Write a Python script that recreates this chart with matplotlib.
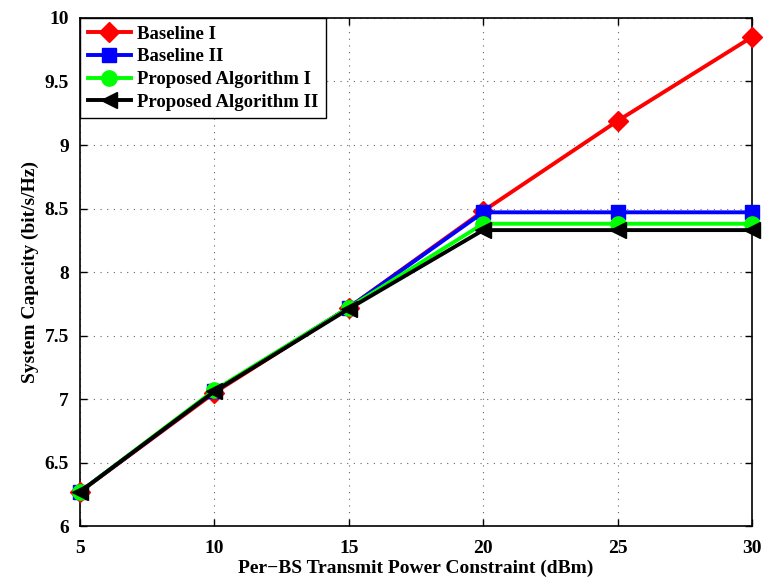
import matplotlib
matplotlib.use('Agg')
import matplotlib.pyplot as plt

power_dbm = [5, 10, 15, 20, 25, 30]
baseline_1 = [6.27, 7.05, 7.72, 8.48, 9.19, 9.85]
baseline_2 = [6.27, 7.06, 7.72, 8.47, 8.47, 8.47]
proposed_1 = [6.27, 7.07, 7.72, 8.38, 8.38, 8.38]
proposed_2 = [6.27, 7.06, 7.71, 8.33, 8.33, 8.33]

x_ticks = [5, 10, 15, 20, 25, 30]
y_ticks = [6, 6.5, 7, 7.5, 8, 8.5, 9, 9.5, 10]
y_tick_labels = ['6', '6.5', '7', '7.5', '8', '8.5', '9', '9.5', '10']

plt.rcParams['font.family'] = 'Liberation Serif'
plt.rcParams['font.weight'] = 'bold'

fig = plt.figure(figsize=(7.65, 5.8), dpi=100)
ax = fig.add_axes([0.1046, 0.093, 0.8784, 0.876])

series = [
    (baseline_1, 'r', 'D', 'Baseline I', 10),
    (baseline_2, 'b', 's', 'Baseline II', 10),
    (proposed_1, '#00ff00', 'o', 'Proposed Algorithm I', 11),
    (proposed_2, 'k', '<', 'Proposed Algorithm II', 12),
]
for ys, color, marker, label, ms in series:
    ax.plot(power_dbm, ys, color=color, marker=marker, markersize=ms,
            linewidth=2.8, label=label, clip_on=False, zorder=3)

ax.set_xlim(5, 30)
ax.set_ylim(6, 10)
ax.set_xticks(x_ticks)
ax.set_yticks(y_ticks)
ax.set_yticklabels(y_tick_labels)
ax.tick_params(direction='in', labelsize=14, length=5, width=1,
               top=True, right=True)
ax.tick_params(axis='x', pad=10)
ax.tick_params(axis='y', pad=8)
ax.grid(True, linestyle=(0, (1, 5)), color='#666666', linewidth=0.8)
for s in ax.spines.values():
    s.set_linewidth(1.2)

ax.set_xlabel('Per\u2212BS Transmit Power Constraint (dBm)', fontsize=14,
              fontweight='bold', labelpad=2)
ax.set_ylabel('System Capacity (bit/s/Hz)', fontsize=14, fontweight='bold',
              labelpad=4)

leg = ax.legend(loc='upper left', fontsize=13.5, borderaxespad=0,
                fancybox=False, edgecolor='k', framealpha=1,
                handlelength=2.3, labelspacing=0.3, borderpad=0.4,
                handletextpad=0.35)
leg.get_frame().set_linewidth(1.0)
for t in leg.get_texts():
    t.set_fontweight('bold')

fig.savefig('out.png', dpi=100)
